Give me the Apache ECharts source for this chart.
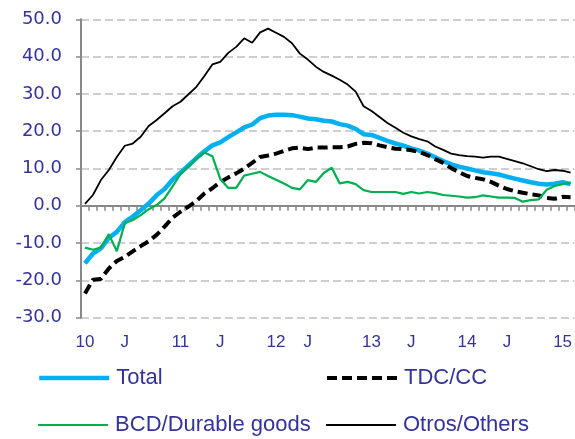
<!DOCTYPE html>
<html>
<head>
<meta charset="utf-8">
<script src="https://cdn.jsdelivr.net/npm/echarts@6/dist/echarts.min.js"></script>
<style>
html,body{margin:0;padding:0;background:#fff;}
#chart{width:575px;height:439px;}
</style>
</head>
<body>
<div id="chart"></div>
<script>
// Monthly, Jan 2010 .. Feb 2015
const months = [];
for (let y = 10; y <= 15; y++) {
  for (let m = 1; m <= 12; m++) {
    if (y === 15 && m > 2) break;
    months.push(y + '-' + (m < 10 ? '0' + m : m));
  }
}
// tick labels shown on the category axis (index -> text)
const tickIndex = [0, 5, 12, 17, 24, 28, 36, 41, 48, 53, 60];
const tickText  = ['10', 'J', '11', 'J', '12', 'J', '13', 'J', '14', 'J', '15'];

const total = [-15.4,-12.8,-11.4,-8.6,-7.0,-4.4,-2.9,-1.2,0.6,2.8,
  4.5,7.0,8.9,10.8,12.8,14.6,16.2,17.0,18.4,19.7,
  21.0,21.8,23.5,24.2,24.4,24.4,24.3,23.9,23.4,23.2,
  22.8,22.6,21.9,21.5,20.6,19.2,19.0,18.2,17.4,16.7,
  16.1,15.4,14.8,14.0,13.0,12.0,11.1,10.5,10.0,9.5,
  9.0,8.7,8.4,7.8,7.3,6.8,6.3,5.9,5.7,5.9,
  6.3,5.8];
const tdc = [-23.5,-19.8,-19.6,-16.8,-14.8,-13.7,-12.2,-10.8,-9.5,-7.8,
  -5.6,-3.2,-1.6,-0.2,1.3,3.3,4.7,6.4,7.6,8.7,
  10.0,11.5,13.1,13.5,14.0,14.7,15.4,15.6,15.2,15.6,
  15.6,15.7,15.7,15.9,16.6,16.9,16.8,16.2,15.7,15.3,
  15.2,14.9,14.4,13.6,12.5,11.5,10.1,9.0,8.0,7.5,
  7.1,6.4,5.4,4.5,3.9,3.5,3.1,2.8,2.1,1.9,
  2.4,2.3];
const durable = [-11.2,-11.8,-11.2,-7.6,-12.2,-4.7,-3.8,-2.5,-0.9,0.2,
  2.0,5.2,8.5,10.5,12.6,14.3,13.3,7.2,4.8,4.8,
  8.1,8.6,9.1,8.0,7.0,6.0,4.8,4.4,6.9,6.4,
  8.8,10.2,6.0,6.4,5.8,4.2,3.7,3.7,3.7,3.7,
  3.2,3.7,3.3,3.7,3.4,2.9,2.7,2.5,2.2,2.3,
  2.8,2.5,2.2,2.2,2.1,1.1,1.5,1.7,4.3,5.3,
  5.8,6.2];
const others = [0.5,2.9,6.9,9.6,13.1,16.1,16.7,18.5,21.4,23.0,
  24.8,26.7,27.9,29.9,31.9,34.8,37.9,38.6,41.0,42.6,
  44.9,43.7,46.5,47.5,46.4,45.3,43.6,40.8,39.2,37.3,
  35.9,34.9,33.8,32.5,30.6,26.7,25.4,23.8,22.2,20.9,
  19.6,18.6,17.9,17.3,15.9,15.0,14.0,13.6,13.3,13.2,
  12.9,13.2,13.2,12.6,12.0,11.4,10.6,9.8,9.3,9.6,
  9.4,8.9];

const names = ['Total', 'TDC/CC', 'BCD/Durable goods', 'Otros/Others'];
const colors = ['#00B0F0', '#000000', '#00B050', '#000000'];

const textColor = '#333399';
const chart = echarts.init(document.getElementById('chart'), null, {renderer: 'canvas'});

function legendAt(name, left, top, ls) {
  return {
    data: [name], left: left, top: top, padding: 0, orient: 'horizontal',
    itemWidth: 70, itemHeight: 14,
    textStyle: {fontFamily: 'Liberation Sans', fontSize: 22, color: textColor, padding: [0,0,0,2]},
    lineStyle: ls,
    itemStyle: {opacity: 0, borderWidth: 0},
    selectedMode: false
  };
}

const option = {
  animation: false,
  backgroundColor: '#ffffff',
  grid: {left: 81, top: 19.3, width: 500.3, height: 298.4, containLabel: false},
  legend: [
    legendAt(names[0], 37, 367, {width: 4.5, color: colors[0], type: 'solid'}),
    legendAt(names[1], 325, 367, {width: 4, color: colors[1], type: [10, 5]}),
    legendAt(names[2], 37, 414, {width: 2.2, color: colors[2], type: 'solid'}),
    legendAt(names[3], 325, 414, {width: 2, color: colors[3], type: 'solid'})
  ],
  xAxis: [
    {
      type: 'category', data: months, boundaryGap: true, position: 'bottom',
      axisLine: {show: false, onZero: false}, axisTick: {show: false},
      axisLabel: {
        interval: function (i) { return tickIndex.indexOf(i) >= 0; },
        formatter: function (v, i) { const k = tickIndex.indexOf(i); return k >= 0 ? tickText[k] : ''; },
        color: textColor, fontFamily: 'Liberation Sans', fontSize: 17, margin: 16
      },
      splitLine: {show: false}
    },
    {
      type: 'category', data: months, boundaryGap: true, position: 'bottom',
      axisLine: {show: true, onZero: true, lineStyle: {color: '#888888', width: 2}},
      axisTick: {show: true, inside: false, length: 5, interval: 0, lineStyle: {color: '#888888', width: 1.5}},
      axisLabel: {show: false},
      splitLine: {show: false}
    }
  ],
  yAxis: {
    type: 'value', min: -30, max: 50, interval: 10,
    axisLine: {show: true, lineStyle: {color: '#888888', width: 2}},
    axisTick: {show: true, inside: false, length: 5, lineStyle: {color: '#888888', width: 1.5}},
    axisLabel: {
      formatter: function (v) { return v.toFixed(1); },
      color: textColor, fontFamily: 'DejaVu Sans', fontSize: 18, margin: 19
    },
    splitLine: {show: true, lineStyle: {color: '#C0C0C0', width: 1.5, type: [8, 4]}}
  },
  series: [
    {name: names[0], type: 'line', data: total, symbol: 'none', showSymbol: false, xAxisIndex: 0,
     lineStyle: {color: colors[0], width: 4.5}, itemStyle: {color: colors[0]}},
    {name: names[1], type: 'line', data: tdc, symbol: 'none', showSymbol: false, xAxisIndex: 0,
     lineStyle: {color: colors[1], width: 4, type: [10, 5]}, itemStyle: {color: colors[1]}},
    {name: names[2], type: 'line', data: durable, symbol: 'none', showSymbol: false, xAxisIndex: 0,
     lineStyle: {color: colors[2], width: 2.2}, itemStyle: {color: colors[2]}},
    {name: names[3], type: 'line', data: others, symbol: 'none', showSymbol: false, xAxisIndex: 0,
     lineStyle: {color: colors[3], width: 1.8}, itemStyle: {color: colors[3]}}
  ]
};
chart.setOption(option);
</script>
</body>
</html>
